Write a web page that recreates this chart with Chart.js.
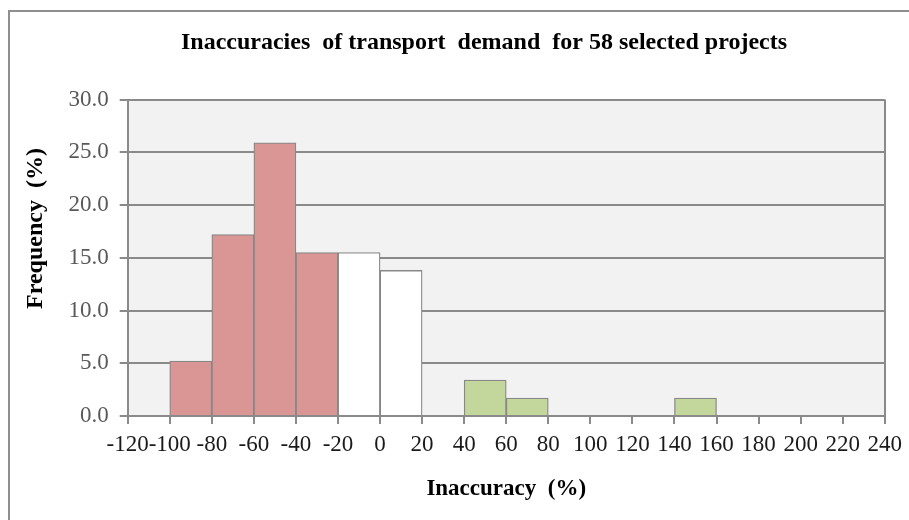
<!DOCTYPE html>
<html>
<head>
<meta charset="utf-8">
<script src="https://cdn.jsdelivr.net/npm/chart.js@4.4.1/dist/chart.umd.min.js"></script>
<style>
html, body { margin: 0; padding: 0; background: #ffffff; }
#wrap { position: relative; width: 909px; height: 520px; }
</style>
</head>
<body>
<div id="wrap"><canvas id="c"></canvas></div>
<script>
// ---- data ----
const binStarts = [-120, -100, -80, -60, -40, -20, 0, 20, 40, 60, 80, 100, 120, 140, 160, 180, 200, 220];
const frequency = [0, 5.2, 17.2, 25.9, 15.5, 15.5, 13.8, 0, 3.4, 1.7, 0, 0, 0, 1.7, 0, 0, 0, 0];
const binWidth = 20;
const xTickValues = [-120, -100, -80, -60, -40, -20, 0, 20, 40, 60, 80, 100, 120, 140, 160, 180, 200, 220, 240];
const xTickLabels = ['-120', '-100', '-80', '-60', '-40', '-20', '0', '20', '40', '60', '80', '100', '120', '140', '160', '180', '200', '220', '240'];
const yTickValues = [0, 5, 10, 15, 20, 25, 30];
const yTickLabels = ['0.0', '5.0', '10.0', '15.0', '20.0', '25.0', '30.0'];
const titleText = 'Inaccuracies  of transport  demand  for 58 selected projects';
const xTitleText = 'Inaccuracy  (%)';
const yTitleText = 'Frequency  (%)';

// ---- styles ----
const SERIF = "'Liberation Serif', 'Times New Roman', serif";
const GRID = '#8a8a8a';
const BAR_EDGE = '#888888';
function binColor(start) {
  if (start < -20) return '#D99694';
  if (start < 20) return '#FFFFFF';
  return '#C3D69B';
}

const decorPlugin = {
  id: 'decor',
  beforeDraw(chart) {
    const { ctx, chartArea: a } = chart;
    ctx.save();
    ctx.fillStyle = '#ffffff';
    ctx.fillRect(0, 0, chart.width, chart.height);
    ctx.fillStyle = '#F2F2F2';
    ctx.fillRect(a.left, a.top, a.right - a.left, a.bottom - a.top);
    ctx.fillStyle = '#8f8f8f';
    ctx.fillRect(8, 10, chart.width - 8, 2);
    ctx.fillRect(8, 10, 2, chart.height - 10);
    ctx.restore();
  },
  afterDraw(chart) {
    const ctx = chart.ctx;
    ctx.save();
    ctx.fillStyle = '#000000';
    ctx.textAlign = 'center';
    ctx.textBaseline = 'middle';
    ctx.font = 'bold 24px ' + SERIF;
    ctx.fillText(titleText, 484, 43);
    ctx.translate(35.5, 228.5);
    ctx.rotate(-Math.PI / 2);
    ctx.fillText(yTitleText, 0, 0);
    ctx.restore();
  }
};

new Chart(document.getElementById('c'), {
  type: 'bar',
  data: {
    datasets: [{
      label: 'Frequency (%)',
      data: binStarts.map((s, i) => ({ x: s + binWidth / 2, y: frequency[i] })),
      backgroundColor: binStarts.map(binColor),
      borderColor: BAR_EDGE,
      borderWidth: (c) => (c.raw && c.raw.y > 0 ? 1.3 : 0),
      borderSkipped: 'start',
      barPercentage: 1,
      categoryPercentage: 1
    }]
  },
  options: {
    responsive: true,
    maintainAspectRatio: false,
    animation: false,
    layout: { padding: { left: 12, right: 24, top: 99.5, bottom: 0 } },
    plugins: {
      legend: { display: false },
      tooltip: { enabled: false },
      title: { display: false }
    },
    scales: {
      x: {
        type: 'linear',
        min: -120,
        max: 240,
        offset: false,
        afterBuildTicks: (s) => { s.ticks = xTickValues.map(v => ({ value: v })); },
        afterFit: (s) => { s.height = 104; },
        ticks: {
          autoSkip: false,
          maxRotation: 0,
          minRotation: 0,
          padding: 7,
          color: '#1a1a1a',
          font: { family: SERIF, size: 23 },
          callback: (v, i) => xTickLabels[i]
        },
        grid: {
          offset: false,
          color: (c) => (c.tick && c.tick.value === 240 ? GRID : 'rgba(0,0,0,0)'),
          tickColor: GRID,
          lineWidth: 2,
          tickLength: 8
        },
        border: { color: GRID, width: 2, z: 1 },
        title: {
          display: true,
          text: xTitleText,
          color: '#000000',
          font: { family: SERIF, size: 23, weight: 'bold' },
          padding: { top: 0, bottom: 17 }
        }
      },
      y: {
        type: 'linear',
        min: 0,
        max: 30,
        afterBuildTicks: (s) => { s.ticks = yTickValues.map(v => ({ value: v })); },
        afterFit: (s) => { s.width = 115.7; },
        ticks: {
          padding: 11,
          color: '#595959',
          font: { family: SERIF, size: 23 },
          callback: (v, i) => yTickLabels[i]
        },
        grid: { color: GRID, lineWidth: 2, tickLength: 8 },
        border: { color: GRID, width: 2, z: 1 }
      }
    }
  },
  plugins: [decorPlugin]
});
</script>
</body>
</html>
